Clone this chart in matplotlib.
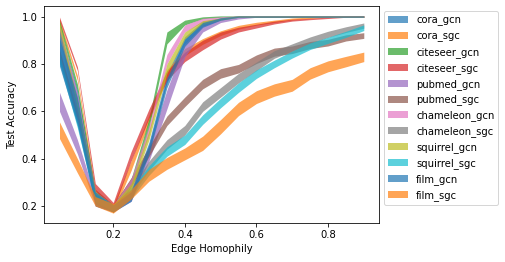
import matplotlib
matplotlib.use("Agg")
import matplotlib.pyplot as plt
import numpy as np

homophily = [0.05, 0.10, 0.15, 0.20, 0.25, 0.30, 0.35, 0.40, 0.45, 0.50,
             0.55, 0.60, 0.65, 0.70, 0.75, 0.80, 0.85, 0.90]

series_names = ["cora_gcn", "cora_sgc", "citeseer_gcn", "citeseer_sgc",
                "pubmed_gcn", "pubmed_sgc", "chameleon_gcn", "chameleon_sgc",
                "squirrel_gcn", "squirrel_sgc", "film_gcn", "film_sgc"]

cora_gcn_mean = [0.88, 0.62, 0.24, 0.19, 0.25, 0.45, 0.74, 0.90, 0.97, 0.99, 1.0, 1.0, 1.0, 1.0, 1.0, 1.0, 1.0, 1.0]
cora_gcn_err = [0.07, 0.07, 0.03, 0.015, 0.02, 0.02, 0.02, 0.015, 0.01, 0.005, 0.003, 0.003, 0.003, 0.003, 0.003, 0.003, 0.003, 0.003]

cora_sgc_mean = [0.98, 0.74, 0.25, 0.19, 0.37, 0.57, 0.76, 0.85, 0.895, 0.93, 0.955, 0.97, 0.98, 0.99, 0.995, 1.0, 1.0, 1.0]
cora_sgc_err = [0.01, 0.01, 0.02, 0.015, 0.02, 0.015, 0.015, 0.015, 0.012, 0.01, 0.008, 0.006, 0.005, 0.004, 0.003, 0.003, 0.003, 0.003]

citeseer_gcn_mean = [0.97, 0.70, 0.24, 0.19, 0.30, 0.55, 0.91, 0.975, 0.995, 1.0, 1.0, 1.0, 1.0, 1.0, 1.0, 1.0, 1.0, 1.0]
citeseer_gcn_err = [0.015, 0.015, 0.02, 0.015, 0.015, 0.02, 0.025, 0.01, 0.004, 0.003, 0.003, 0.003, 0.003, 0.003, 0.003, 0.003, 0.003, 0.003]

citeseer_sgc_mean = [0.99, 0.78, 0.28, 0.20, 0.41, 0.59, 0.75, 0.83, 0.88, 0.92, 0.945, 0.96, 0.975, 0.985, 0.99, 0.995, 1.0, 1.0]
citeseer_sgc_err = [0.008, 0.008, 0.015, 0.015, 0.02, 0.02, 0.02, 0.02, 0.02, 0.015, 0.01, 0.008, 0.006, 0.004, 0.003, 0.003, 0.003, 0.003]

pubmed_gcn_mean = [0.64, 0.45, 0.22, 0.19, 0.24, 0.42, 0.65, 0.86, 0.95, 0.985, 0.995, 1.0, 1.0, 1.0, 1.0, 1.0, 1.0, 1.0]
pubmed_gcn_err = [0.04, 0.03, 0.02, 0.015, 0.02, 0.03, 0.04, 0.03, 0.015, 0.01, 0.005, 0.003, 0.003, 0.003, 0.003, 0.003, 0.003, 0.003]

pubmed_sgc_mean = [0.84, 0.58, 0.23, 0.19, 0.30, 0.43, 0.56, 0.64, 0.715, 0.76, 0.78, 0.82, 0.85, 0.86, 0.88, 0.89, 0.91, 0.92]
pubmed_sgc_err = [0.02, 0.02, 0.02, 0.015, 0.02, 0.02, 0.02, 0.02, 0.02, 0.02, 0.018, 0.018, 0.017, 0.016, 0.015, 0.014, 0.013, 0.012]

chameleon_gcn_mean = [0.95, 0.66, 0.24, 0.19, 0.30, 0.52, 0.82, 0.95, 0.985, 0.995, 1.0, 1.0, 1.0, 1.0, 1.0, 1.0, 1.0, 1.0]
chameleon_gcn_err = [0.015, 0.015, 0.02, 0.015, 0.015, 0.02, 0.02, 0.015, 0.008, 0.004, 0.003, 0.003, 0.003, 0.003, 0.003, 0.003, 0.003, 0.003]

chameleon_sgc_mean = [0.93, 0.60, 0.23, 0.19, 0.26, 0.37, 0.46, 0.52, 0.62, 0.68, 0.74, 0.79, 0.84, 0.87, 0.90, 0.925, 0.945, 0.962]
chameleon_sgc_err = [0.02, 0.02, 0.02, 0.015, 0.02, 0.02, 0.02, 0.02, 0.02, 0.02, 0.02, 0.018, 0.016, 0.015, 0.014, 0.013, 0.012, 0.011]

squirrel_gcn_mean = [0.96, 0.63, 0.24, 0.19, 0.28, 0.50, 0.78, 0.92, 0.975, 0.99, 1.0, 1.0, 1.0, 1.0, 1.0, 1.0, 1.0, 1.0]
squirrel_gcn_err = [0.015, 0.015, 0.02, 0.015, 0.015, 0.02, 0.02, 0.015, 0.008, 0.004, 0.003, 0.003, 0.003, 0.003, 0.003, 0.003, 0.003, 0.003]

squirrel_sgc_mean = [0.82, 0.55, 0.23, 0.19, 0.25, 0.35, 0.43, 0.48, 0.565, 0.635, 0.70, 0.757, 0.80, 0.84, 0.875, 0.90, 0.925, 0.953]
squirrel_sgc_err = [0.02, 0.02, 0.02, 0.015, 0.02, 0.02, 0.02, 0.02, 0.02, 0.02, 0.02, 0.018, 0.016, 0.015, 0.014, 0.013, 0.013, 0.012]

film_gcn_mean = [0.85, 0.60, 0.23, 0.19, 0.24, 0.44, 0.72, 0.89, 0.965, 0.99, 1.0, 1.0, 1.0, 1.0, 1.0, 1.0, 1.0, 1.0]
film_gcn_err = [0.06, 0.06, 0.03, 0.015, 0.02, 0.02, 0.02, 0.015, 0.01, 0.005, 0.003, 0.003, 0.003, 0.003, 0.003, 0.003, 0.003, 0.003]

film_sgc_mean = [0.52, 0.37, 0.22, 0.19, 0.25, 0.33, 0.38, 0.42, 0.465, 0.535, 0.61, 0.66, 0.69, 0.71, 0.76, 0.79, 0.81, 0.83]
film_sgc_err = [0.035, 0.03, 0.02, 0.02, 0.02, 0.025, 0.025, 0.025, 0.03, 0.03, 0.028, 0.027, 0.026, 0.025, 0.024, 0.023, 0.022, 0.02]

means = [cora_gcn_mean, cora_sgc_mean, citeseer_gcn_mean, citeseer_sgc_mean,
         pubmed_gcn_mean, pubmed_sgc_mean, chameleon_gcn_mean, chameleon_sgc_mean,
         squirrel_gcn_mean, squirrel_sgc_mean, film_gcn_mean, film_sgc_mean]
errs = [cora_gcn_err, cora_sgc_err, citeseer_gcn_err, citeseer_sgc_err,
        pubmed_gcn_err, pubmed_sgc_err, chameleon_gcn_err, chameleon_sgc_err,
        squirrel_gcn_err, squirrel_sgc_err, film_gcn_err, film_sgc_err]

DPI = 72
fig = plt.figure(figsize=(505 / DPI, 262 / DPI), dpi=DPI)
ax = fig.add_axes([0.0877, 0.1489, 0.6628, 0.8281])

colors = plt.rcParams['axes.prop_cycle'].by_key()['color']
x = np.array(homophily)
for i, (name, m, e) in enumerate(zip(series_names, means, errs)):
    m = np.array(m)
    e = np.array(e)
    ax.fill_between(x, m - e, m + e, color=colors[i % len(colors)], alpha=0.7,
                    linewidth=0, label=name)

ax.set_xlabel("Edge Homophily")
ax.set_ylabel("Test Accuracy")
ax.set_xticks([0.2, 0.4, 0.6, 0.8])
ax.set_yticks([0.2, 0.4, 0.6, 0.8, 1.0])
ax.legend(loc="upper left", bbox_to_anchor=(1, 1))

fig.savefig("out.png", dpi=DPI)
